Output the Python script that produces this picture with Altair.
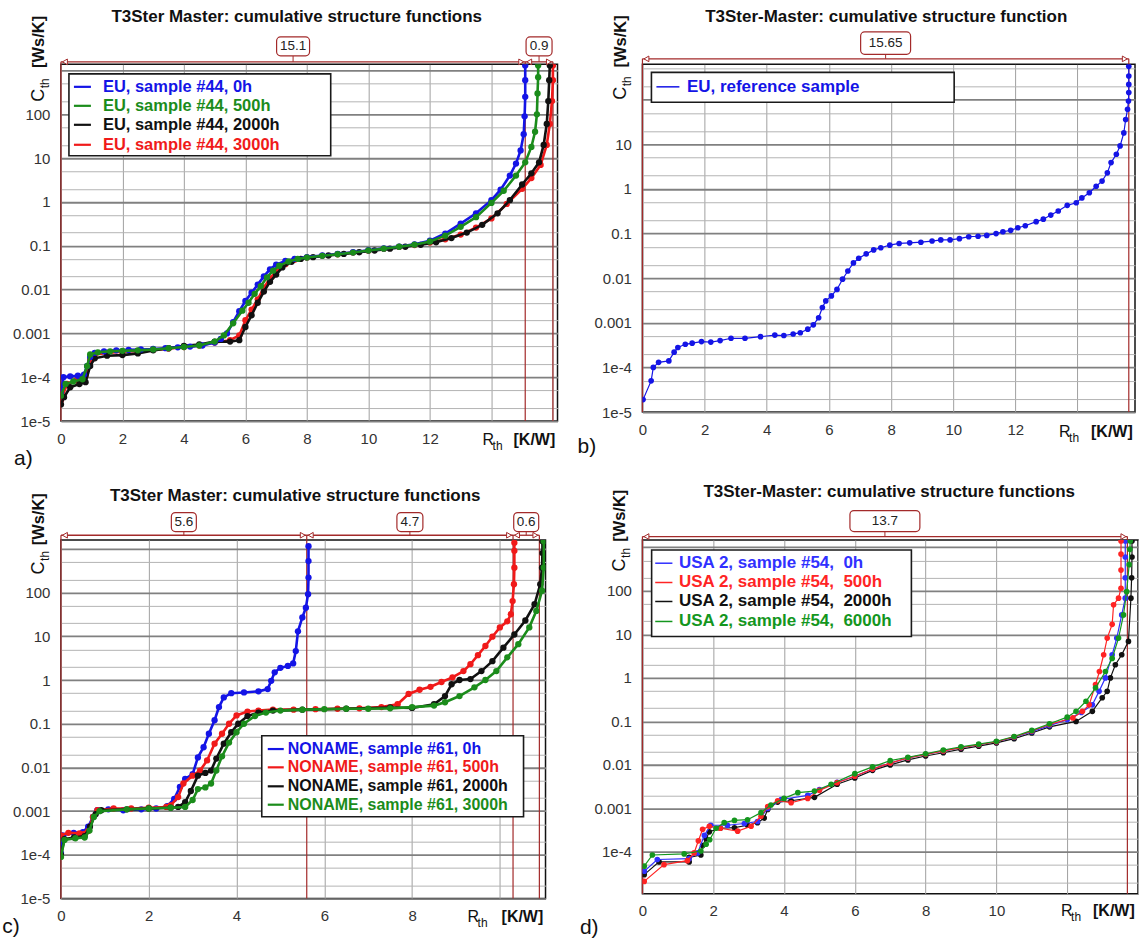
import altair as alt
import pandas as pd

# ---------------- data ----------------
# Panel a) EU, sample #44
A_X_BLUE = [0, 0.08, 0.3, 0.55, 0.75, 0.85, 0.95, 1.1, 1.4, 1.8, 2.2, 2.6, 3.0, 3.4, 3.8, 4.2, 4.6, 5.0, 5.2, 5.4, 5.6, 5.8, 6.0, 6.2, 6.4, 6.6, 6.8, 7.0, 7.3, 7.6, 8.0, 8.5, 9.0, 9.5, 10.0, 10.5, 11.0, 11.5, 12.0, 12.5, 13.0, 13.5, 14.0, 14.3, 14.6, 14.8, 14.95, 15.05, 15.08, 15.1, 15.1, 15.1]
A_Y_BLUE = [4.5e-5, 1.0e-4, 1.05e-4, 1.08e-4, 1.15e-4, 1.8e-4, 2.9e-4, 3.6e-4, 3.9e-4, 4.1e-4, 4.2e-4, 4.3e-4, 4.4e-4, 4.6e-4, 4.8e-4, 5.0e-4, 5.3e-4, 6.2e-4, 7.5e-4, 1.0e-3, 1.8e-3, 3.2e-3, 5.5e-3, 8.5e-3, 0.013, 0.02, 0.029, 0.037, 0.045, 0.05, 0.055, 0.06, 0.065, 0.071, 0.079, 0.087, 0.096, 0.108, 0.13, 0.19, 0.32, 0.55, 1.1, 1.9, 4.0, 7.5, 15, 35, 90, 250, 600, 1300]
A_X_GREEN = [0, 0.15, 0.4, 0.7, 0.85, 0.95, 1.2, 1.6, 2.0, 2.5, 3.0, 3.5, 4.0, 4.5, 5.0, 5.3, 5.6, 5.9, 6.1, 6.3, 6.5, 6.7, 6.9, 7.1, 7.4, 7.7, 8.0, 8.5, 9.0, 9.5, 10.0, 10.5, 11.0, 11.5, 12.0, 12.5, 13.0, 13.5, 14.0, 14.4, 14.8, 15.1, 15.3, 15.42, 15.48, 15.5, 15.52, 15.52]
A_Y_GREEN = [3.8e-5, 7e-5, 8e-5, 9e-5, 1.8e-4, 3.3e-4, 3.7e-4, 3.9e-4, 4.0e-4, 4.1e-4, 4.3e-4, 4.6e-4, 4.9e-4, 5.3e-4, 6.5e-4, 9e-4, 1.7e-3, 3.3e-3, 5e-3, 8e-3, 0.012, 0.019, 0.027, 0.035, 0.044, 0.05, 0.054, 0.059, 0.064, 0.07, 0.078, 0.086, 0.095, 0.106, 0.125, 0.17, 0.27, 0.45, 0.95, 1.8, 4.0, 8.0, 18, 40, 100, 300, 700, 1300]
A_X_BLACK = [0, 0.1, 0.3, 0.6, 0.8, 0.95, 1.1, 1.5, 2.0, 2.5, 3.0, 3.5, 4.0, 4.5, 5.0, 5.5, 5.8, 6.0, 6.2, 6.4, 6.6, 6.8, 7.0, 7.2, 7.5, 7.8, 8.2, 8.7, 9.2, 9.7, 10.2, 10.7, 11.2, 11.7, 12.2, 12.7, 13.2, 13.7, 14.2, 14.6, 15.0, 15.3, 15.55, 15.7, 15.8, 15.85, 15.88, 15.9]
A_Y_BLACK = [2.4e-5, 3.5e-5, 5.9e-5, 7e-5, 7.7e-5, 1.8e-4, 2.7e-4, 3.1e-4, 3.2e-4, 3.5e-4, 4.1e-4, 4.6e-4, 5.2e-4, 5.6e-4, 6.5e-4, 6.5e-4, 7e-4, 1.4e-3, 2.6e-3, 5e-3, 9e-3, 0.015, 0.022, 0.032, 0.043, 0.05, 0.055, 0.06, 0.065, 0.071, 0.078, 0.086, 0.095, 0.105, 0.12, 0.15, 0.2, 0.3, 0.55, 1.1, 2.5, 4.5, 8, 20, 60, 200, 600, 1300]
A_X_RED = [0, 0.2, 0.5, 0.8, 0.95, 1.1, 1.5, 2.0, 2.5, 3.0, 3.5, 4.0, 4.5, 5.0, 5.5, 5.8, 6.0, 6.2, 6.4, 6.6, 6.8, 7.0, 7.3, 7.6, 8.0, 8.5, 9.0, 9.5, 10.0, 10.5, 11.0, 11.5, 12.0, 12.5, 13.0, 13.5, 14.0, 14.5, 15.0, 15.3, 15.6, 15.8, 15.9, 15.97, 16.0, 16.0]
A_Y_RED = [3e-5, 7e-5, 8.5e-5, 1.1e-4, 2.5e-4, 3.3e-4, 3.6e-4, 3.8e-4, 4.0e-4, 4.2e-4, 4.5e-4, 4.9e-4, 5.3e-4, 6.2e-4, 7e-4, 9e-4, 2e-3, 3.5e-3, 6e-3, 0.011, 0.018, 0.026, 0.038, 0.048, 0.054, 0.059, 0.064, 0.07, 0.077, 0.085, 0.094, 0.104, 0.118, 0.14, 0.18, 0.26, 0.42, 0.9, 2.0, 3.5, 7, 20, 60, 200, 600, 1300]
A_LABELS = ["EU, sample #44, 0h", "EU, sample #44, 500h", "EU, sample #44, 2000h", "EU, sample #44, 3000h"]
A_MARKS = [0, 15.1, 16.0]
A_SEG_LABELS = ["15.1", "0.9"]

# Panel b) EU, reference sample
B_X = [0.02, 0.28, 0.35, 0.52, 0.85, 1.02, 1.14, 1.38, 1.6, 1.9, 2.2, 2.5, 2.85, 3.3, 3.8, 4.26, 4.55, 4.85, 5.08, 5.32, 5.5, 5.67, 5.79, 5.9, 6.08, 6.26, 6.44, 6.61, 6.79, 6.96, 7.2, 7.44, 7.67, 7.96, 8.26, 8.6, 8.96, 9.32, 9.6, 9.9, 10.2, 10.5, 10.8, 11.08, 11.38, 11.6, 11.85, 12.08, 12.32, 12.67, 12.9, 13.14, 13.38, 13.67, 13.96, 14.14, 14.38, 14.6, 14.79, 14.96, 15.08, 15.25, 15.37, 15.49, 15.55, 15.61, 15.64, 15.65, 15.65, 15.65, 15.65]
B_Y = [1.9e-5, 5e-5, 1e-4, 1.3e-4, 1.4e-4, 2.2e-4, 2.8e-4, 3.3e-4, 3.5e-4, 3.8e-4, 3.7e-4, 4e-4, 4.5e-4, 4.5e-4, 4.9e-4, 5.3e-4, 5.2e-4, 5.6e-4, 6e-4, 7.2e-4, 9e-4, 1.3e-3, 2.2e-3, 3.1e-3, 4e-3, 5.6e-3, 9.5e-3, 0.0145, 0.022, 0.028, 0.035, 0.043, 0.048, 0.055, 0.06, 0.062, 0.064, 0.068, 0.072, 0.072, 0.077, 0.085, 0.087, 0.091, 0.10, 0.11, 0.118, 0.135, 0.15, 0.185, 0.21, 0.26, 0.32, 0.43, 0.49, 0.63, 0.82, 1.15, 1.5, 2.3, 3.9, 6, 9.2, 18, 36, 61, 93, 145, 220, 340, 560]
B_LABELS = ["EU, reference sample"]
B_MARKS = [0, 15.65]
B_SEG_LABELS = ["15.65"]

# Panel c) NONAME, sample #61
C_X_BLUE = [0, 0.04, 0.29, 0.5, 0.62, 0.73, 0.83, 1.08, 1.42, 1.83, 2.17, 2.42, 2.58, 2.71, 2.83, 3.0, 3.12, 3.25, 3.37, 3.5, 3.6, 3.71, 3.88, 4.17, 4.5, 4.71, 4.79, 4.87, 5.0, 5.17, 5.29, 5.35, 5.4, 5.5, 5.58, 5.63, 5.64, 5.64, 5.64]
C_Y_BLUE = [1.1e-4, 2.8e-4, 3.2e-4, 3.3e-4, 4.4e-4, 7.4e-4, 1.05e-3, 1.1e-3, 1.05e-3, 1.1e-3, 1.15e-3, 1.3e-3, 1.9e-3, 3.6e-3, 5.5e-3, 7e-3, 0.017, 0.029, 0.059, 0.12, 0.24, 0.40, 0.5, 0.52, 0.55, 0.62, 0.96, 1.5, 1.9, 2.1, 2.4, 4.6, 13, 27, 45, 92, 220, 525, 1150]
C_X_RED = [0, 0.17, 0.42, 0.62, 0.73, 0.83, 1.2, 1.6, 2.0, 2.4, 2.5, 2.67, 2.79, 3.0, 3.17, 3.33, 3.5, 3.67, 3.83, 4.0, 4.25, 4.5, 4.83, 5.3, 5.8, 6.3, 6.8, 7.3, 7.67, 7.92, 8.17, 8.42, 8.67, 8.92, 9.17, 9.33, 9.5, 9.67, 9.83, 10.0, 10.17, 10.25, 10.29, 10.32, 10.33, 10.33, 10.33]
C_Y_RED = [2.8e-4, 3.2e-4, 3.1e-4, 3.5e-4, 7.4e-4, 1.05e-3, 1.15e-3, 1.15e-3, 1.2e-3, 1.25e-3, 1.35e-3, 2.1e-3, 4.3e-3, 6.5e-3, 8.5e-3, 0.0145, 0.035, 0.059, 0.1, 0.155, 0.19, 0.2, 0.21, 0.21, 0.215, 0.22, 0.225, 0.24, 0.28, 0.48, 0.6, 0.7, 0.9, 1.15, 1.6, 2.3, 3.7, 6, 9.8, 16, 22, 32, 64, 155, 370, 900, 1380]
C_X_BLACK = [0, 0.08, 0.3, 0.54, 0.66, 0.79, 0.92, 1.5, 2.0, 2.5, 2.67, 2.83, 2.96, 3.12, 3.29, 3.42, 3.54, 3.71, 3.88, 4.04, 4.25, 4.5, 4.83, 5.5, 6.5, 7.5, 8.0, 8.5, 8.75, 8.9, 9.08, 9.33, 9.58, 9.83, 10.08, 10.33, 10.58, 10.79, 10.92, 10.96, 10.97, 10.97]
C_Y_BLACK = [1e-4, 2.3e-4, 2.5e-4, 2.7e-4, 4.4e-4, 8.5e-4, 1.05e-3, 1.1e-3, 1.15e-3, 1.2e-3, 1.25e-3, 1.6e-3, 2.9e-3, 6.5e-3, 7.5e-3, 8.5e-3, 0.016, 0.035, 0.064, 0.1, 0.15, 0.18, 0.2, 0.21, 0.22, 0.235, 0.23, 0.28, 0.43, 0.8, 1.0, 1.05, 1.6, 2.7, 5.5, 11, 23, 54, 155, 370, 800, 1500]
C_X_GREEN = [0, 0.08, 0.33, 0.54, 0.65, 0.75, 0.88, 1.5, 2.0, 2.5, 2.83, 3.0, 3.12, 3.29, 3.42, 3.54, 3.67, 3.83, 4.0, 4.17, 4.42, 4.67, 5.0, 5.5, 6.0, 6.5, 7.0, 7.5, 8.0, 8.5, 8.75, 9.08, 9.42, 9.67, 9.92, 10.17, 10.42, 10.67, 10.83, 10.96, 11.0, 11.0]
C_Y_GREEN = [9e-5, 2.2e-4, 2.4e-4, 2.5e-4, 3.6e-4, 7.4e-4, 1.0e-3, 1.1e-3, 1.15e-3, 1.2e-3, 1.25e-3, 1.8e-3, 3.2e-3, 3.5e-3, 4.3e-3, 8.5e-3, 0.018, 0.037, 0.064, 0.1, 0.15, 0.18, 0.2, 0.21, 0.215, 0.22, 0.22, 0.225, 0.24, 0.26, 0.31, 0.43, 0.68, 1.0, 1.6, 3.3, 6.6, 16, 38, 110, 370, 1500]
C_LABELS = ["NONAME, sample #61, 0h", "NONAME, sample #61, 500h", "NONAME, sample #61, 2000h", "NONAME, sample #61, 3000h"]
C_MARKS = [0, 5.6, 10.3, 10.9]
C_SEG_LABELS = ["5.6", "4.7", "0.6"]

# Panel d) USA 2, sample #54
D_X_BLUE = [0.05, 0.42, 1.32, 1.56, 1.75, 1.93, 2.4, 2.88, 3.25, 3.54, 3.92, 4.67, 5.0, 5.5, 6.0, 6.5, 7.0, 7.5, 8.0, 8.5, 9.0, 9.5, 10.0, 10.5, 11.0, 11.5, 12.0, 12.4, 12.71, 12.9, 13.08, 13.27, 13.4, 13.54, 13.64, 13.64, 13.64, 13.64]
D_Y_BLUE = [3.6e-5, 6.7e-5, 7e-5, 9.5e-5, 2.4e-4, 4.1e-4, 4.1e-4, 4.5e-4, 5e-4, 1e-3, 1.6e-3, 2.0e-3, 2.7e-3, 4e-3, 5.5e-3, 8e-3, 0.011, 0.0145, 0.0175, 0.021, 0.025, 0.029, 0.034, 0.043, 0.058, 0.08, 0.11, 0.16, 0.24, 0.49, 1.0, 3.4, 8.2, 28, 68, 200, 600, 1400]
D_X_RED = [0.05, 0.61, 1.27, 1.46, 1.58, 1.7, 1.89, 2.2, 2.69, 3.07, 3.35, 3.54, 3.82, 4.2, 4.67, 5.0, 5.5, 6.0, 6.5, 7.0, 7.5, 8.0, 8.5, 9.0, 9.5, 10.0, 10.5, 11.0, 11.5, 12.16, 12.43, 12.62, 12.8, 12.91, 13.03, 13.13, 13.27, 13.31, 13.45, 13.52, 13.52, 13.52, 13.52]
D_Y_RED = [2.1e-5, 5.1e-5, 6.3e-5, 9.5e-5, 1.8e-4, 3.3e-4, 3.9e-4, 3.5e-4, 3e-4, 3.9e-4, 6.6e-4, 1.1e-3, 1.5e-3, 1.35e-3, 1.7e-3, 2.6e-3, 3.9e-3, 5.5e-3, 8e-3, 0.011, 0.0145, 0.0175, 0.021, 0.025, 0.029, 0.034, 0.044, 0.06, 0.085, 0.12, 0.17, 0.24, 0.7, 1.4, 3.4, 8.2, 17, 48, 68, 115, 300, 700, 1400]
D_X_BLACK = [0.05, 0.47, 1.32, 1.32, 1.65, 1.7, 1.8, 1.89, 2.2, 2.6, 2.97, 3.25, 3.44, 3.54, 3.82, 4.2, 4.86, 5.5, 6.0, 6.5, 7.0, 7.5, 8.0, 8.5, 9.0, 9.5, 10.0, 10.5, 11.0, 11.5, 12.25, 12.71, 12.99, 13.13, 13.22, 13.36, 13.54, 13.73, 13.8, 13.82, 13.83, 13.83]
D_Y_BLACK = [3e-5, 5.9e-5, 5.9e-5, 7.5e-5, 8.5e-5, 1.4e-4, 2e-4, 2.9e-4, 3.5e-4, 3.6e-4, 4.1e-4, 4.7e-4, 6e-4, 9.5e-4, 1.4e-3, 1.5e-3, 1.8e-3, 3.6e-3, 5e-3, 7.5e-3, 0.01, 0.013, 0.016, 0.019, 0.023, 0.027, 0.032, 0.04, 0.054, 0.075, 0.1, 0.17, 0.35, 0.49, 1.0, 2.0, 3.4, 6.9, 68, 200, 600, 1400]
D_X_GREEN = [0.05, 0.28, 1.18, 1.65, 1.8, 1.9, 2.08, 2.31, 2.6, 2.97, 3.35, 3.63, 4.0, 4.39, 4.86, 5.33, 6.0, 6.5, 7.0, 7.5, 8.0, 8.5, 9.0, 9.5, 10.0, 10.5, 11.0, 11.5, 12.0, 12.25, 12.53, 12.8, 13.08, 13.27, 13.45, 13.59, 13.68, 13.75, 13.77, 13.78]
D_Y_GREEN = [4.7e-5, 8.5e-5, 9e-5, 1.05e-4, 1.5e-4, 1.9e-4, 3.5e-4, 4.7e-4, 5.3e-4, 5.5e-4, 8e-4, 1.2e-3, 1.7e-3, 2.3e-3, 2.5e-3, 3.6e-3, 6.3e-3, 9e-3, 0.0125, 0.015, 0.018, 0.022, 0.026, 0.03, 0.035, 0.045, 0.062, 0.088, 0.125, 0.17, 0.29, 0.59, 1.4, 2.8, 8.2, 28, 96, 400, 900, 1400]
D_LABELS = ["USA 2, sample #54,\u00a0 0h", "USA 2, sample #54,\u00a0 500h", "USA 2, sample #54,\u00a0 2000h", "USA 2, sample #54,\u00a0 6000h"]
D_MARKS = [0, 13.7]
D_SEG_LABELS = ["13.7"]

TITLE_1 = "T3Ster Master: cumulative structure functions"
TITLE_2 = "T3Ster-Master: cumulative structure function"
TITLE_3 = "T3Ster-Master: cumulative structure functions"

# ---------------- styling ----------------
FONT = "Liberation Sans"
BLUE, GREEN, BLACK, RED = "#1414e6", "#1b8c1b", "#111111", "#f01a1a"
D_BLUE, D_RED, D_GREEN = "#3030ff", "#ff2424", "#14961e"
DARKRED = "#a32a2a"
DECADE = "abs(log(datum.value)/LN10 - round(log(datum.value)/LN10)) < 0.01"


def dummy():
    return pd.DataFrame({"d": [0]})


def txt(s, x, y, size=15, weight="normal", align="center", angle=0, color="#111"):
    return alt.Chart(dummy()).mark_text(
        text=s, font=FONT, fontSize=size, fontWeight=weight, align=align,
        baseline="middle", angle=angle, color=color
    ).encode(x=alt.value(x), y=alt.value(y))


def make_panel(p):
    w, h = p["w"], p["h"]
    xsc = alt.Scale(domain=[0, p["xmax"]], nice=False, zero=False)
    ysc = alt.Scale(type="log", domain=[p["ymin"], p["ymax"]], nice=False)
    xvals = list(range(0, int(p["xmax"]) + 1, 2))
    xax = alt.Axis(values=xvals, labelExpr=f"datum.value <= {p['xlabmax']} ? datum.label : ''",
                   grid=True, gridColor="#a0a0a0", gridWidth=1, ticks=False, domain=False,
                   labelFont=FONT, labelFontSize=15, labelColor="#333", labelPadding=10,
                   labelFlush=False, labelOverlap=False, title=None)
    yvals = [m * 10.0 ** e for e in range(-5, 4) for m in (1, 2, 5)
             if p["ymin"] <= m * 10.0 ** e <= p["ymax"]]
    ylab = (f"({DECADE} && datum.value <= {p['ylabmax'] * 1.01}) ? "
            "(datum.value < 0.00005 ? '1e-5' : (datum.value < 0.0005 ? '1e-4' : format(datum.value, '~g'))) : ''")
    yax = alt.Axis(values=yvals, labelExpr=ylab, grid=True, ticks=False, domain=False,
                   gridColor={"condition": {"test": DECADE, "value": "#808080"}, "value": "#b4b4b4"},
                   gridWidth={"condition": {"test": DECADE, "value": 1.8}, "value": 1},
                   labelFont=FONT, labelFontSize=15, labelColor="#333", labelPadding=11,
                   labelOverlap=False, labelFlush=False, title=None)

    def X(f):
        return alt.X(f"{f}:Q", scale=xsc, axis=xax)

    Y = alt.Y("y:Q", scale=ysc, axis=yax)
    layers = []

    # vertical marker lines
    vdf = pd.DataFrame({"x": p["marks"]})
    layers.append(alt.Chart(vdf).mark_rule(color=DARKRED, strokeWidth=1.2).encode(
        x=X("x"), y=alt.value(p["dim_y"]), y2=alt.value(h)))

    # data series
    for color, xs, ys in p["series"]:
        df = pd.DataFrame({"x": xs, "y": ys, "i": list(range(len(xs)))})
        base = alt.Chart(df)
        layers.append(base.mark_line(color=color, strokeWidth=p["lw"], clip=True).encode(
            x=X("x"), y=Y, order="i:Q"))
        layers.append(base.mark_circle(color=color, size=p["ps"], opacity=1, clip=True).encode(
            x=X("x"), y=Y))

    # dimension line with boxes
    m = p["marks"]
    starts, ends = m[:-1], m[1:]
    pxu = w / p["xmax"]
    mids = [(a + b) / 2 for a, b in zip(starts, ends)]
    half = [bw / 2 / pxu for bw in p["box_w"]]
    sdf = pd.DataFrame({"x": starts, "x2": ends, "xc": mids, "lab": p["seg_labels"],
                        "bx0": [c - hw for c, hw in zip(mids, half)],
                        "bx1": [c + hw for c, hw in zip(mids, half)]})
    dy = p["dim_y"]
    by0, by1 = p["box_y"]
    sc = alt.Chart(sdf)
    layers.append(sc.mark_rule(color=DARKRED, strokeWidth=1.3).encode(
        x=X("x"), x2=alt.X2("x2:Q"), y=alt.value(dy)))
    layers.append(sc.mark_point(shape="triangle-left", size=32, filled=True, fill="white",
                                stroke=DARKRED, strokeWidth=1, opacity=1, xOffset=4).encode(
        x=X("x"), y=alt.value(dy)))
    layers.append(sc.mark_point(shape="triangle-right", size=32, filled=True, fill="white",
                                stroke=DARKRED, strokeWidth=1, opacity=1, xOffset=-4).encode(
        x=X("x2"), y=alt.value(dy)))
    layers.append(sc.mark_rule(color=DARKRED, strokeWidth=1).encode(
        x=X("xc"), y=alt.value(by1), y2=alt.value(dy)))
    layers.append(sc.mark_rect(fill="white", stroke=DARKRED, strokeWidth=1.2, cornerRadius=4).encode(
        x=X("bx0"), x2=alt.X2("bx1:Q"), y=alt.value(by0), y2=alt.value(by1)))
    layers.append(sc.mark_text(font=FONT, fontSize=13.5, color="#222", baseline="middle").encode(
        x=X("xc"), y=alt.value((by0 + by1) / 2), text="lab:N"))

    # legend
    lx0, lx1, ly0, ly1 = p["leg_box"]
    layers.append(alt.Chart(dummy()).mark_rect(fill="white", stroke="#1a1a1a", strokeWidth=1.6).encode(
        x=alt.value(lx0), x2=alt.value(lx1), y=alt.value(ly0), y2=alt.value(ly1)))
    l0, l1 = p["leg_line"]
    for (label, color), yy in zip(p["legend"], p["leg_rows"]):
        layers.append(alt.Chart(dummy()).mark_rule(color=color, strokeWidth=p["leg_lw"]).encode(
            x=alt.value(l0), x2=alt.value(l1), y=alt.value(yy)))
        layers.append(txt(label, p["leg_text"], yy, size=p["leg_fs"], weight="bold",
                          align="left", color=color))

    # titles and axis labels
    tx, ty = p["title_xy"]
    layers.append(txt(p["title"], tx, ty, size=17, weight="bold"))
    wx, wy = p["ws_xy"]
    layers.append(txt("[Ws/K]", wx, wy, size=16.5, weight="bold", angle=270))
    cx, cy = p["c_xy"]
    layers.append(txt("C", cx, cy, size=18, angle=270))
    layers.append(txt("th", cx + 6, cy - 12, size=12, angle=270))
    rx, ry = p["r_xy"]
    layers.append(txt("R", rx, ry, size=16, align="left"))
    layers.append(txt("th", rx + 10, ry + 6, size=12, align="left"))
    layers.append(txt("[K/W]", p["kw_x"], ry, size=16, weight="bold", align="left"))
    lx, ly = p["letter_xy"]
    layers.append(txt(p["letter"], lx, ly, size=21, align="left", color="#111"))

    if p.get("anchor"):
        layers.append(alt.Chart(dummy()).mark_rule(color="white", strokeWidth=0.5).encode(
            x=alt.value(-60), x2=alt.value(-59.5), y=alt.value(-62.5), y2=alt.value(-62.5)))

    return alt.layer(*layers).properties(width=w, height=h)


PA = dict(w=497, h=357, xmax=16.15, ymin=1e-5, ymax=1380, xlabmax=12, ylabmax=100,
          series=[(RED, A_X_RED, A_Y_RED), (BLACK, A_X_BLACK, A_Y_BLACK),
                  (BLUE, A_X_BLUE, A_Y_BLUE), (GREEN, A_X_GREEN, A_Y_GREEN)],
          lw=2.6, ps=40, marks=A_MARKS, seg_labels=A_SEG_LABELS, box_w=[33, 26],
          dim_y=-2.5, box_y=(-27.5, -8.5),
          legend=list(zip(A_LABELS, [BLUE, GREEN, BLACK, RED])),
          leg_box=(8, 270, 9.5, 91.5), leg_rows=[22.5, 41.5, 60.5, 80.5], leg_line=(13, 30),
          leg_text=42, leg_fs=16.5, leg_lw=2.2,
          title=TITLE_1, title_xy=(236, -47.5), ws_xy=(-21.5, -22.5), c_xy=(-21.5, 31),
          r_xy=(422, 376), kw_x=453, letter="a)", letter_xy=(-47, 394.5), anchor=True)

PB = dict(w=493, h=348, xmax=15.85, ymin=1e-5, ymax=620, xlabmax=12, ylabmax=10,
          series=[(BLUE, B_X, B_Y)],
          lw=1.2, ps=32, marks=B_MARKS, seg_labels=B_SEG_LABELS, box_w=[50],
          dim_y=-5.5, box_y=(-32.5, -10),
          legend=list(zip(B_LABELS, [BLUE])),
          leg_box=(9, 312, 8, 38), leg_rows=[22.5], leg_line=(14, 37),
          leg_text=44.5, leg_fs=17, leg_lw=1.5,
          title=TITLE_2, title_xy=(244, -47.5), ws_xy=(-21, -23), c_xy=(-21, 29),
          r_xy=(417, 368), kw_x=449, letter="b)", letter_xy=(-65, 383))

PC = dict(w=485, h=359, xmax=11.04, ymin=1e-5, ymax=1600, xlabmax=8, ylabmax=100,
          series=[(BLUE, C_X_BLUE, C_Y_BLUE), (RED, C_X_RED, C_Y_RED),
                  (BLACK, C_X_BLACK, C_Y_BLACK), (GREEN, C_X_GREEN, C_Y_GREEN)],
          lw=2.6, ps=40, marks=C_MARKS, seg_labels=C_SEG_LABELS, box_w=[25, 26, 25],
          dim_y=-4.7, box_y=(-27.4, -8.4),
          legend=list(zip(C_LABELS, [BLUE, RED, BLACK, GREEN])),
          leg_box=(201, 463, 196, 277), leg_rows=[209.3, 227.6, 246.6, 265], leg_line=(207, 223),
          leg_text=227, leg_fs=16, leg_lw=2.2,
          title=TITLE_1, title_xy=(234.5, -44), ws_xy=(-22, -20.7), c_xy=(-22, 28),
          r_xy=(407, 377.5), kw_x=441, letter="c)", letter_xy=(-58.7, 387.6))

PD = dict(w=496, h=354, xmax=14.0, ymin=1.1e-5, ymax=1480, xlabmax=10, ylabmax=100,
          series=[(BLACK, D_X_BLACK, D_Y_BLACK), (D_BLUE, D_X_BLUE, D_Y_BLUE),
                  (D_RED, D_X_RED, D_Y_RED), (D_GREEN, D_X_GREEN, D_Y_GREEN)],
          lw=1.2, ps=32, marks=D_MARKS, seg_labels=D_SEG_LABELS, box_w=[70],
          dim_y=-3.4, box_y=(-29.4, -8.4),
          legend=list(zip(D_LABELS, [D_BLUE, D_RED, BLACK, D_GREEN])),
          leg_box=(9.2, 269.2, 10, 96.6), leg_rows=[23.3, 42.6, 61.6, 81.6], leg_line=(12.8, 30),
          leg_text=36.6, leg_fs=17, leg_lw=1.5,
          title=TITLE_3, title_xy=(247, -48.4),
          ws_xy=(-22, -24.2), c_xy=(-22, 25),
          r_xy=(419, 371.6), kw_x=451, letter="d)", letter_xy=(-62.6, 388.3))

chart = alt.concat(
    make_panel(PA), make_panel(PB), make_panel(PC), make_panel(PD),
    columns=2, spacing={"row": 119, "column": 85}, bounds="flush", align="each"
).properties(padding=0, background="white").configure_view(stroke="#111", strokeWidth=1.5)

chart.save("out.html", embed_options={"renderer": "svg", "actions": False})
